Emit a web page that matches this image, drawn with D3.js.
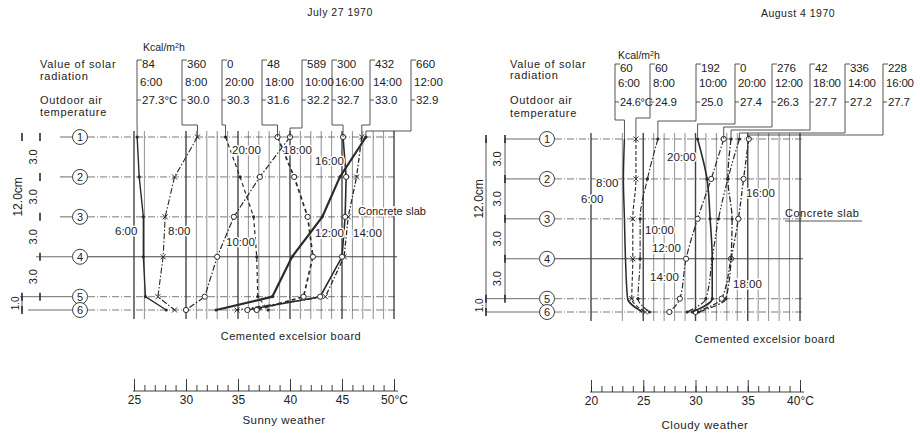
<!DOCTYPE html>
<html>
<head>
<meta charset="utf-8">
<script src="https://cdn.jsdelivr.net/npm/d3@7"></script>
<style>
  body { margin: 0; background: #fff; }
  svg { font-family: "Liberation Sans", Arial, sans-serif; }
  text { fill: #222; }
</style>
</head>
<body>
<svg id="chart" width="920" height="433"></svg>
<script>
/**
 * Data.
 */
const rowNames = ['1', '2', '3', '4', '5', '6'];
const rowDepth = [0, 3, 6, 9, 12, 13]; // cm from top of slab
const curveTimes = ['6:00', '8:00', '10:00', '12:00', '14:00', '16:00', '18:00', '20:00'];

// Sunny weather (July 27 1970), temperature at rows 1..6
const sunny0600 = [25.3, 25.5, 25.9, 25.9, 26.1, 28.1];
const sunny0800 = [31.1, 28.9, 28.0, 27.8, 27.3, 28.9];
const sunny1000 = [40.0, 37.1, 34.6, 33.0, 31.8, 30.0];
const sunny1200 = [47.3, 44.8, 43.1, 40.2, 38.3, 32.9];
const sunny1400 = [46.9, 46.4, 45.6, 45.2, 43.4, 34.9];
const sunny1600 = [45.1, 45.4, 45.3, 45.0, 42.9, 35.9];
const sunny1800 = [38.8, 40.4, 41.7, 42.2, 41.3, 36.8];
const sunny2000 = [33.8, 35.2, 36.5, 36.8, 36.9, 37.9];

// Cloudy weather (August 4 1970)
const cloudy0600 = [23.2, 23.1, 23.2, 23.3, 23.5, 24.9];
const cloudy0800 = [24.3, 24.3, 24.0, 24.0, 23.9, 25.2];
const cloudy1000 = [26.4, 25.4, 24.7, 24.7, 24.5, 25.6];
const cloudy1200 = [32.7, 31.5, 30.2, 29.1, 28.5, 27.5];
const cloudy1400 = [34.2, 33.1, 32.2, 31.6, 31.0, 29.2];
const cloudy1600 = [35.1, 34.6, 34.1, 33.4, 32.5, 30.0];
const cloudy1800 = [33.4, 33.1, 33.5, 33.4, 32.9, 30.3];
const cloudy2000 = [30.2, 31.1, 31.4, 31.6, 31.6, 29.7];

// Header tables
const sunnyTableTimes = ['6:00', '8:00', '20:00', '18:00', '10:00', '16:00', '14:00', '12:00'];
const sunnySolar = ['84', '360', '0', '48', '589', '300', '432', '660'];
const sunnyOutdoor = ['27.3°C', '30.0', '30.3', '31.6', '32.2', '32.7', '33.0', '32.9'];

const cloudyTableTimes = ['6:00', '8:00', '10:00', '20:00', '12:00', '18:00', '14:00', '16:00'];
const cloudySolar = ['60', '60', '192', '0', '276', '42', '336', '228'];
const cloudyOutdoor = ['24.6°C', '24.9', '25.0', '27.4', '26.3', '27.7', '27.2', '27.7'];

// Axis ticks
const sunnyTicks = [25, 30, 35, 40, 45, 50];
const cloudyTicks = [20, 25, 30, 35, 40];

/**
 * Styles.
 */
const ink = '#2a2a2a';
const sunnyStyles = {
    '6:00':  { dash: null, w: 1.4, mark: 'dot' },
    '8:00':  { dash: '6,2,1.5,2', w: 1.1, mark: 'cross' },
    '10:00': { dash: '6,2,1.5,2', w: 1.2, mark: 'circle' },
    '12:00': { dash: null, w: 2.2, mark: 'dot' },
    '14:00': { dash: '5,2,1.5,2', w: 1.3, mark: 'cross' },
    '16:00': { dash: null, w: 1.6, mark: 'circle' },
    '18:00': { dash: '4,3', w: 1.7, mark: 'circle' },
    '20:00': { dash: '4,3', w: 1.2, mark: 'dot' }
};
const cloudyStyles = {
    '6:00':  { dash: null, w: 1.5, mark: 'none' },
    '8:00':  { dash: '4,2', w: 1.1, mark: 'cross' },
    '10:00': { dash: '6,2,1.5,2', w: 1.1, mark: 'dot' },
    '12:00': { dash: '6,2,1.5,2', w: 1.2, mark: 'circle' },
    '14:00': { dash: '6,2,1.5,2,1.5,2', w: 1.2, mark: 'dot' },
    '16:00': { dash: '5,2,1.5,2', w: 1.3, mark: 'circle' },
    '18:00': { dash: '6,2,1.5,2', w: 1.3, mark: 'dot' },
    '20:00': { dash: null, w: 1.6, mark: 'dot' }
};

const svg = d3.select('#chart');

/**
 * Adds a text with a white halo so grid lines break behind it.
 */
function haloText(g, x, y, str, size, anchor) {
    [true, false].forEach(halo => {
        const t = g.append('text')
            .attr('x', x).attr('y', y)
            .attr('font-size', size)
            .attr('text-anchor', anchor || 'start')
            .text(str);
        if (halo) t.attr('fill', '#fff').attr('stroke', '#fff').attr('stroke-width', 3);
    });
}

/**
 * Draws one weather panel.
 */
function drawPanel(cfg) {
    const g = svg.append('g');
    const x = d3.scaleLinear().domain(cfg.domain).range(cfg.range);
    const y = d3.scaleLinear().domain([0, 13]).range(cfg.yRange);
    const series = curveTimes.map((t, i) => ({ time: t, values: cfg.values[i] }));
    const byTime = new Map(series.map(s => [s.time, s]));

    // Vertical grid
    g.selectAll('.grid').data(cfg.grid).join('line')
        .attr('x1', d => x(d)).attr('x2', d => x(d))
        .attr('y1', y(0) - 6).attr('y2', y(13) + 9)
        .attr('stroke', '#444')
        .attr('stroke-width', d => d % 5 === 0 ? 1.4 : 0.6);

    // Row lines and labels
    rowDepth.forEach((d, i) => {
        const yy = y(d);
        g.append('line')
            .attr('x1', cfg.circleX + 8).attr('x2', x(cfg.domain[1]) + 3)
            .attr('y1', yy).attr('y2', yy)
            .attr('stroke', '#444').attr('stroke-width', i === 3 ? 1.1 : 0.7)
            .attr('stroke-dasharray', i === 3 ? null : '7,2,1,2');
        g.append('line')
            .attr('x1', cfg.rowLeft[i]).attr('x2', cfg.circleX - 8)
            .attr('y1', yy).attr('y2', yy)
            .attr('stroke', '#444').attr('stroke-width', 0.8);
        g.append('circle')
            .attr('cx', cfg.circleX).attr('cy', yy).attr('r', 7.5)
            .attr('fill', '#fff').attr('stroke', ink).attr('stroke-width', 0.9);
        g.append('text')
            .attr('x', cfg.circleX).attr('y', yy + 4)
            .attr('text-anchor', 'middle').attr('font-size', 11)
            .text(rowNames[i]);
    });

    // Dimension marks
    cfg.dims.forEach(dim => {
        g.append('line')
            .attr('x1', dim.x).attr('x2', dim.x)
            .attr('y1', y(dim.from)).attr('y2', y(dim.to))
            .attr('stroke', ink).attr('stroke-width', 0.8);
        dim.ticks.forEach(t => {
            g.append('line')
                .attr('x1', dim.x).attr('x2', dim.x)
                .attr('y1', y(t) - 4).attr('y2', y(t) + 4)
                .attr('stroke', ink).attr('stroke-width', 1.6);
        });
    });
    cfg.dimLabels.forEach(l => {
        g.append('text')
            .attr('transform', 'translate(' + l.x + ',' + y(l.at) + ') rotate(-90)')
            .attr('text-anchor', 'middle').attr('font-size', l.size || 11)
            .text(l.text);
    });

    // Curves
    const line = d3.line()
        .x(d => x(d.t))
        .y(d => y(d.d))
        .curve(cfg.curve);

    series.forEach(s => {
        const st = cfg.styles[s.time];
        const pts = s.values.map((t, i) => ({ t: t, d: rowDepth[i] }));
        g.append('path')
            .attr('d', line(pts))
            .attr('fill', 'none').attr('stroke', ink)
            .attr('stroke-width', st.w)
            .attr('stroke-dasharray', st.dash);
        pts.forEach(p => {
            const px = x(p.t), py = y(p.d);
            if (st.mark === 'circle') {
                g.append('circle').attr('cx', px).attr('cy', py).attr('r', 2.6)
                    .attr('fill', '#fff').attr('stroke', ink).attr('stroke-width', 1);
            } else if (st.mark === 'dot') {
                g.append('circle').attr('cx', px).attr('cy', py).attr('r', 1.6)
                    .attr('fill', ink);
            } else if (st.mark === 'cross') {
                g.append('path')
                    .attr('d', `M${px - 2.5},${py - 2.5}L${px + 2.5},${py + 2.5}M${px - 2.5},${py + 2.5}L${px + 2.5},${py - 2.5}`)
                    .attr('stroke', ink).attr('stroke-width', 1);
            }
        });
    });

    // Curve time labels
    cfg.timeLabels.forEach(l => haloText(g, l[1], l[2], l[0], 11.5));

    // Header table with leader lines
    const tb = cfg.table;
    g.append('text').attr('x', tb.kcal[0]).attr('y', tb.kcal[1])
        .attr('font-size', 10.5).html('Kcal/m<tspan dy="-3" font-size="7">2</tspan><tspan dy="3">h</tspan>');
    [['Value of solar', tb.labelY[0]], ['radiation', tb.labelY[1]],
     ['Outdoor air', tb.labelY[2]], ['temperature', tb.labelY[3]]].forEach(r => {
        g.append('text').attr('x', tb.labelX).attr('y', r[1])
            .attr('font-size', 11).attr('letter-spacing', 0.7).text(r[0]);
    });
    cfg.tableTimes.forEach((t, i) => {
        const bx = tb.bracketX[i];
        const nextX = i < tb.bracketX.length - 1 ? tb.bracketX[i + 1] : bx + 40;
        const target = x(byTime.get(t).values[0]);
        g.append('path')
            .attr('d', `M${bx + 5},${tb.top}H${bx}V${tb.elbow[i]}H${target}V${y(0)}`)
            .attr('fill', 'none').attr('stroke', ink).attr('stroke-width', 0.8);
        g.append('path')
            .attr('d', `M${bx},${tb.rowY[2] - 4}H${bx + 4}`)
            .attr('stroke', ink).attr('stroke-width', 0.8);
        [cfg.solar[i], t, cfg.outdoor[i]].forEach((str, r) => {
            const tx0 = bx + (r === 1 ? 3 : 5);
            const tx = g.append('text').attr('x', tx0).attr('y', tb.rowY[r])
                .attr('font-size', tb.font).attr('letter-spacing', tb.ls).text(str);
            // Shrink a value that would run into the next column
            const room = nextX + 3 - tx0;
            let size = tb.font;
            while (tx.node().getComputedTextLength() > room && size > 7) {
                size -= 0.5;
                tx.attr('font-size', size);
            }
        });
    });

    // Bottom temperature axis
    const axisG = g.append('g').attr('transform', 'translate(0,' + cfg.axisY + ')');
    const minor = d3.range(cfg.domain[0], cfg.domain[1] + 1);
    axisG.call(d3.axisBottom(x).tickValues(minor).tickSizeInner(-6).tickSizeOuter(0).tickFormat(''));
    const major = axisG.append('g');
    major.call(d3.axisBottom(x).tickValues(cfg.ticks).tickSizeInner(-12).tickSizeOuter(0).tickPadding(4)
        .tickFormat(d => d === cfg.domain[1] ? d + '°C' : d));
    major.select('.domain').remove();
    axisG.selectAll('line, path').attr('stroke', ink).attr('stroke-width', 0.9);
    axisG.selectAll('text').attr('font-size', 12).attr('fill', '#222')
        .attr('font-family', '"Liberation Sans", Arial, sans-serif');
    axisG.select('.domain').attr('d', `M${x(cfg.domain[0]) - 1},0H${x(cfg.domain[1]) + 4}`);

    // Captions
    cfg.captions.forEach(c => {
        if (c.halo) {
            haloText(g, c.x, c.y, c.text, c.size || 11, c.anchor);
            return;
        }
        g.append('text').attr('x', c.x).attr('y', c.y)
            .attr('text-anchor', c.anchor || 'middle')
            .attr('font-size', c.size || 11).attr('letter-spacing', c.ls || 0.5)
            .text(c.text);
    });
    if (cfg.underline) {
        g.append('line').attr('x1', cfg.underline[0]).attr('x2', cfg.underline[1])
            .attr('y1', cfg.underline[2]).attr('y2', cfg.underline[2])
            .attr('stroke', ink).attr('stroke-width', 0.8);
    }
}

drawPanel({
    domain: [25, 50], range: [134, 394], yRange: [137, 310],
    values: [sunny0600, sunny0800, sunny1000, sunny1200, sunny1400, sunny1600, sunny1800, sunny2000],
    styles: sunnyStyles, curve: d3.curveLinear,
    grid: [25, 26, 30, 31, 32, 33, 34, 35, 36, 37, 38, 39, 40, 41, 42, 43, 44, 45, 46, 47, 48, 49, 50],
    circleX: 80,
    rowLeft: [60, 60, 60, 36, 20, 28],
    dims: [
        { x: 40, from: 0, to: 0, ticks: [0, 3, 6, 9, 12] },
        { x: 22, from: 12, to: 13, ticks: [0, 12, 13] }
    ],
    dimLabels: [
        { x: 22, at: 4.5, text: '12.0cm', size: 12 },
        { x: 37, at: 1.5, text: '3.0' }, { x: 37, at: 4.5, text: '3.0' },
        { x: 37, at: 7.5, text: '3.0' }, { x: 37, at: 10.5, text: '3.0' },
        { x: 19, at: 12.5, text: '1.0', size: 10 }
    ],
    timeLabels: [['6:00', 115, 235], ['8:00', 168, 235], ['10:00', 226, 246], ['12:00', 315, 237],
                 ['14:00', 353, 237], ['16:00', 315, 165], ['18:00', 283, 154], ['20:00', 232, 154]],
    tableTimes: sunnyTableTimes, solar: sunnySolar, outdoor: sunnyOutdoor,
    table: {
        kcal: [143, 51], labelX: 40, labelY: [68, 80, 104, 116],
        top: 60, rowY: [68, 86, 104], font: 11.5, ls: 0,
        bracketX: [137, 182, 222, 262, 302, 332, 370, 411],
        elbow: [125, 125, 125, 125, 128, 125, 125, 131]
    },
    ticks: sunnyTicks, axisY: 391,
    captions: [
        { x: 340, y: 16, text: 'July  27  1970', size: 10.5 },
        { x: 291, y: 340, text: 'Cemented excelsior board' },
        { x: 358, y: 215, text: 'Concrete slab', anchor: 'start', halo: true },
        { x: 284, y: 424, text: 'Sunny weather', size: 11.5 }
    ]
});

drawPanel({
    domain: [20, 40], range: [591, 800], yRange: [139, 312],
    values: [cloudy0600, cloudy0800, cloudy1000, cloudy1200, cloudy1400, cloudy1600, cloudy1800, cloudy2000],
    styles: cloudyStyles, curve: d3.curveMonotoneY,
    grid: [20, 23, 25, 26, 27, 28, 29, 30, 31, 32, 33, 34, 35, 36, 37, 38, 39, 40],
    circleX: 547,
    rowLeft: [505, 505, 505, 505, 486, 486],
    dims: [
        { x: 505, from: 0, to: 12, ticks: [0, 3, 6, 9, 12] },
        { x: 486, from: 0, to: 13, ticks: [0, 12, 13] }
    ],
    dimLabels: [
        { x: 483, at: 4.5, text: '12.0cm', size: 12 },
        { x: 501, at: 1.5, text: '3.0' }, { x: 501, at: 4.5, text: '3.0' },
        { x: 501, at: 7.5, text: '3.0' }, { x: 501, at: 10.5, text: '3.0' },
        { x: 483, at: 12.5, text: '1.0', size: 10 }
    ],
    timeLabels: [['6:00', 581, 203], ['8:00', 596, 187], ['10:00', 645, 234], ['12:00', 652, 252],
                 ['14:00', 650, 281], ['16:00', 746, 197], ['18:00', 733, 288], ['20:00', 667, 161]],
    tableTimes: cloudyTableTimes, solar: cloudySolar, outdoor: cloudyOutdoor,
    table: {
        kcal: [618, 59], labelX: 510, labelY: [68, 79, 104, 117],
        top: 64, rowY: [72, 87, 106], font: 11.5, ls: -0.2,
        bracketX: [615, 650, 696, 735, 772, 810, 845, 883],
        elbow: [120, 118, 121, 124, 127, 130, 133, 135]
    },
    ticks: cloudyTicks, axisY: 392,
    captions: [
        { x: 798, y: 17, text: 'August  4  1970', size: 10.5 },
        { x: 765, y: 343, text: 'Cemented excelsior board' },
        { x: 785, y: 217, text: 'Concrete slab', anchor: 'start' },
        { x: 705, y: 429, text: 'Cloudy  weather', size: 11.5 }
    ],
    underline: [785, 862, 221]
});
</script>
</body>
</html>
